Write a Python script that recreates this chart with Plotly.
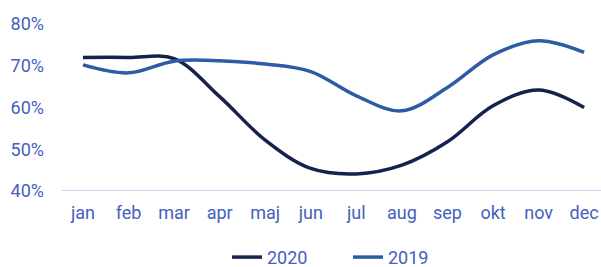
import plotly.graph_objects as go

months = ["jan", "feb", "mar", "apr", "maj", "jun", "jul", "aug", "sep", "okt", "nov", "dec"]
y2020 = [72.0, 72.0, 71.7, 62.6, 52.2, 45.4, 44.1, 46.2, 51.8, 60.4, 64.2, 60.0]
y2019 = [70.2, 68.3, 71.1, 71.2, 70.4, 68.6, 62.8, 59.2, 64.8, 72.6, 76.0, 73.2]

fig = go.Figure()
fig.add_trace(go.Scatter(x=months, y=y2020, name="2020", mode="lines",
                         line=dict(color="#14224d", width=3.5, shape="spline", smoothing=1.0)))
fig.add_trace(go.Scatter(x=months, y=y2019, name="2019", mode="lines",
                         line=dict(color="#2d5ca4", width=3.5, shape="spline", smoothing=1.0)))

tick_color = "#4560bd"
fig.update_layout(
    width=601, height=267,
    margin=dict(l=62, r=0, t=24, b=76, autoexpand=False),
    paper_bgcolor="white", plot_bgcolor="white",
    font=dict(family="Roboto", size=18, color=tick_color),
    showlegend=True,
    legend=dict(orientation="h", x=0.579, xanchor="center", xref="container",
                y=0.036, yanchor="middle", yref="container",
                font=dict(size=18, color=tick_color), itemwidth=30,
                entrywidth=76, entrywidthmode="pixels"),
    xaxis=dict(type="category", range=[-0.46, 11.37], showgrid=False, zeroline=False,
               showline=False, ticks="", tickfont=dict(size=18, color=tick_color),
               ticklabelstandoff=9),
    yaxis=dict(range=[40, 80], tickvals=[40, 50, 60, 70, 80],
               ticktext=["40%", "50%", "60%", "70%", "80%"],
               showgrid=False, zeroline=False, showline=False, ticks="",
               tickfont=dict(size=18, color=tick_color), ticklabelstandoff=17),
    shapes=[dict(type="line", xref="paper", yref="y", x0=0, x1=1, y0=40, y1=40,
                 line=dict(color="#c8d3f0", width=2), layer="below")],
)
fig.update_yaxes(automargin=False)
fig.update_xaxes(automargin=False)
fig.write_html("out.html", config={"displayModeBar": False},
               post_script="document.body.style.margin='0';document.body.style.overflow='hidden';")
